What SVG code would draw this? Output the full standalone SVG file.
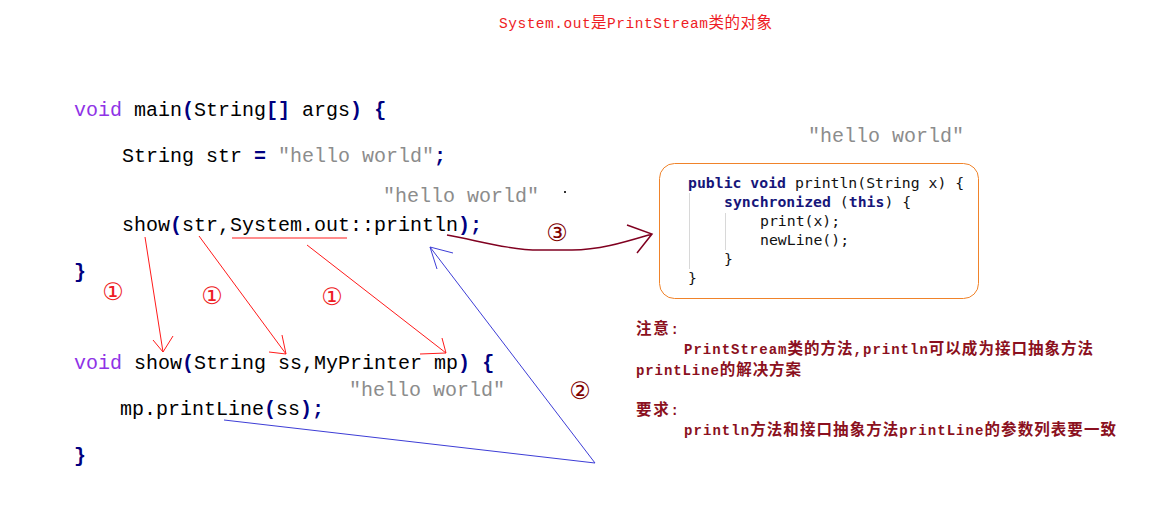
<svg xmlns="http://www.w3.org/2000/svg" width="1172" height="507" viewBox="0 0 1172 507">
<style>
.code{font-family:"Liberation Mono",monospace;font-size:20px;fill:#000;white-space:pre}
.kw{fill:#8f33e6}
.br{fill:#000080;font-weight:bold}
.str{fill:#8c8c8c}
.jv{font-family:"DejaVu Sans Mono",monospace;font-size:14.8px;fill:#111;white-space:pre}
.jk{font-weight:bold;fill:#16167a}
.note{font-family:"Liberation Mono","Noto Sans CJK SC",monospace;font-size:14px;font-weight:bold;white-space:pre}
.ttl{font-family:"Liberation Mono","Noto Sans CJK SC",monospace;font-size:14.5px;white-space:pre}
.cj{font-family:"Noto Sans CJK SC",sans-serif;font-size:15.5px}
.dr{fill:#8b1020}
.rd{fill:#ee1c25}
.num{font-family:"DejaVu Sans",sans-serif;font-size:24px;text-anchor:middle}
.red{stroke:#ff1a1a;stroke-width:1;fill:none}
.blue{stroke:#3d3dd6;stroke-width:1;fill:none}
.mar{stroke:#800020;stroke-width:1.5;fill:none}
.guide{stroke:#d8d8d8;stroke-width:1}
</style>
<rect width="1172" height="507" fill="#fff"/>

<g id="title">
<text class="ttl rd" x="499" y="28" textLength="273" lengthAdjust="spacing">System.out<tspan class="cj">是</tspan>PrintStream<tspan class="cj">类的对象</tspan></text>
</g>

<g id="main-code">
<text class="code" x="74" y="116"><tspan class="kw">void</tspan> main<tspan class="br">(</tspan>String<tspan class="br">[]</tspan> args<tspan class="br">)</tspan> <tspan class="br">{</tspan></text>
<text class="code" x="122" y="162">String str <tspan class="br">=</tspan> <tspan class="str">"hello world"</tspan><tspan class="br">;</tspan></text>
<text class="code" x="122" y="231">show<tspan class="br">(</tspan>str,System.out::println<tspan class="br">)</tspan><tspan class="br">;</tspan></text>
<text class="code" x="74" y="278"><tspan class="br">}</tspan></text>
</g>

<g id="show-code">
<text class="code" x="74" y="369"><tspan class="kw">void</tspan> show<tspan class="br">(</tspan>String ss,MyPrinter mp<tspan class="br">)</tspan> <tspan class="br">{</tspan></text>
<text class="code" x="120" y="415">mp.printLine<tspan class="br">(</tspan>ss<tspan class="br">)</tspan><tspan class="br">;</tspan></text>
<text class="code" x="74" y="462"><tspan class="br">}</tspan></text>
</g>

<g id="value-labels">
<text class="code str" x="808" y="142">"hello world"</text>
<text class="code str" x="383" y="202">"hello world"</text>
<text class="code str" x="349" y="396">"hello world"</text>
<rect x="564" y="191" width="2" height="2" fill="#333"/>
</g>

<g id="println-box">
<rect x="659.5" y="163.5" width="319" height="135" rx="15" ry="15" fill="#fff" stroke="#f0832a" stroke-width="1"/>
<line class="guide" x1="689.5" y1="193" x2="689.5" y2="269"/>
<line class="guide" x1="725.5" y1="213" x2="725.5" y2="250"/>
<text class="jv" x="688" y="188"><tspan class="jk">public void</tspan> println(String x) {</text>
<text class="jv" x="724" y="207"><tspan class="jk">synchronized</tspan> (<tspan class="jk">this</tspan>) {</text>
<text class="jv" x="760" y="226">print(x);</text>
<text class="jv" x="760" y="245">newLine();</text>
<text class="jv" x="724" y="264">}</text>
<text class="jv" x="688" y="283">}</text>
</g>

<g id="notes">
<text class="note dr" x="636" y="334" textLength="43" lengthAdjust="spacing"><tspan class="cj">注意</tspan>:</text>
<text class="note dr" x="684" y="354" textLength="409" lengthAdjust="spacing">PrintStream<tspan class="cj">类的方法</tspan>,println<tspan class="cj">可以成为接口抽象方法</tspan></text>
<text class="note dr" x="636" y="375" textLength="165" lengthAdjust="spacing">printLine<tspan class="cj">的解决方案</tspan></text>
<text class="note dr" x="636" y="415" textLength="43" lengthAdjust="spacing"><tspan class="cj">要求</tspan>:</text>
<text class="note dr" x="684" y="435" textLength="432" lengthAdjust="spacing">println<tspan class="cj">方法和接口抽象方法</tspan>printLine<tspan class="cj">的参数列表要一致</tspan></text>
</g>

<g id="connectors">
<path class="red" d="M232,238 L347,238"/>
<path class="red" d="M145,237 L163,352 M153,340 L163,352 L173,336"/>
<path class="red" d="M199,236 L286,354 M269,352 L286,354 L282,335"/>
<path class="red" d="M307,245 L446,353 M420,354 L446,353 L442,338"/>
<path class="blue" d="M224,420 L595,463 L430,247 M453,253 L430,247 L437,269"/>
<path class="mar" d="M447,235 C480,241 510,250 540,250 L572,250 C600,250 625,242 652,234 M627,225 L652,234 L637,253"/>
</g>

<g id="step-numbers">
<text class="num rd" x="113" y="299.5">①</text>
<text class="num rd" x="212" y="303.5">①</text>
<text class="num rd" x="332" y="304.5">①</text>
<text class="num" x="580" y="398.5" fill="#800000">②</text>
<text class="num" x="557" y="240.5" fill="#800000">③</text>
</g>
</svg>
